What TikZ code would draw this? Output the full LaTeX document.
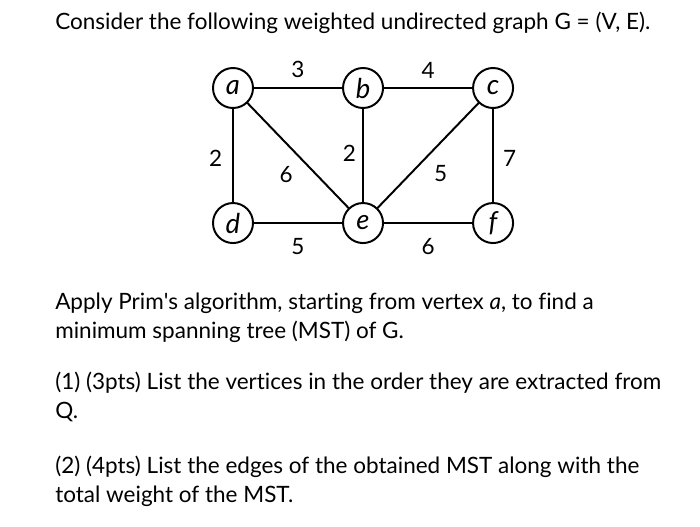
\documentclass[tikz,border=0pt]{standalone}
\usepackage{fontspec}
\setmainfont{Lato}[Ligatures=NoCommon]
\usetikzlibrary{positioning}

\begin{document}
\begin{tikzpicture}[
  x=0.025cm, y=-0.025cm,
  font=\fontsize{16pt}{19pt}\selectfont,
  vertex/.style={draw, circle, line width=1.4pt, minimum size=1cm, inner sep=0pt, outer sep=0pt, font=\fontsize{19.5pt}{21pt}\selectfont\itshape},
  edge/.style={line width=1.4pt},
  weight/.style={inner sep=0pt},
  textline/.style={anchor=base west, inner sep=0pt}
]
\useasboundingbox (0,0) rectangle (700,527);

\node[textline] (title) at (55,29) {Consider the following weighted undirected graph G = (V, E).};

% the graph
\node[vertex] (a) at (233,88) {a};
\node[vertex, right=2.25cm of a] (b) {b};
\node[vertex, right=2.25cm of b] (c) {c};
\node[vertex, below=2.375cm of a] (d) {d};
\node[vertex, right=2.25cm of d] (e) {e};
\node[vertex, right=2.25cm of e] (f) {f};

\draw[edge] (a) -- node[weight, above=6.4pt] {3} (b);
\draw[edge] (b) -- node[weight, above=6.4pt] {4} (c);
\draw[edge] (a) -- node[weight, pos=.53, left=7pt] {2} (d);
\draw[edge] (a) -- node[weight, pos=.54, below left=4pt and 6pt] {6} (e);
\draw[edge] (b) -- node[weight, pos=.48, left=4.3pt] {2} (e);
\draw[edge] (c) -- node[weight, pos=.54, below right=3pt and 6.5pt] {5} (e);
\draw[edge] (c) -- node[weight, pos=.53, right=6.4pt] {7} (f);
\draw[edge] (d) -- node[weight, below=10pt] {5} (e);
\draw[edge] (e) -- node[weight, below=10pt] {6} (f);

% the questions
\node[textline] (q1) at (55,309) {Apply Prim\textquotesingle s algorithm, starting from vertex \textit{a}, to find a};
\node[textline] (q2) at (55,338) {minimum spanning tree (MST) of G.};
\node[textline] (q3) at (55,389) {(1) (3pts) List the vertices in the order they are extracted from};
\node[textline] (q4) at (55,418) {Q.};
\node[textline] (q5) at (55,473) {(2) (4pts) List the edges of the obtained MST along with the};
\node[textline] (q6) at (55,502) {total weight of the MST.};
\end{tikzpicture}
\end{document}
